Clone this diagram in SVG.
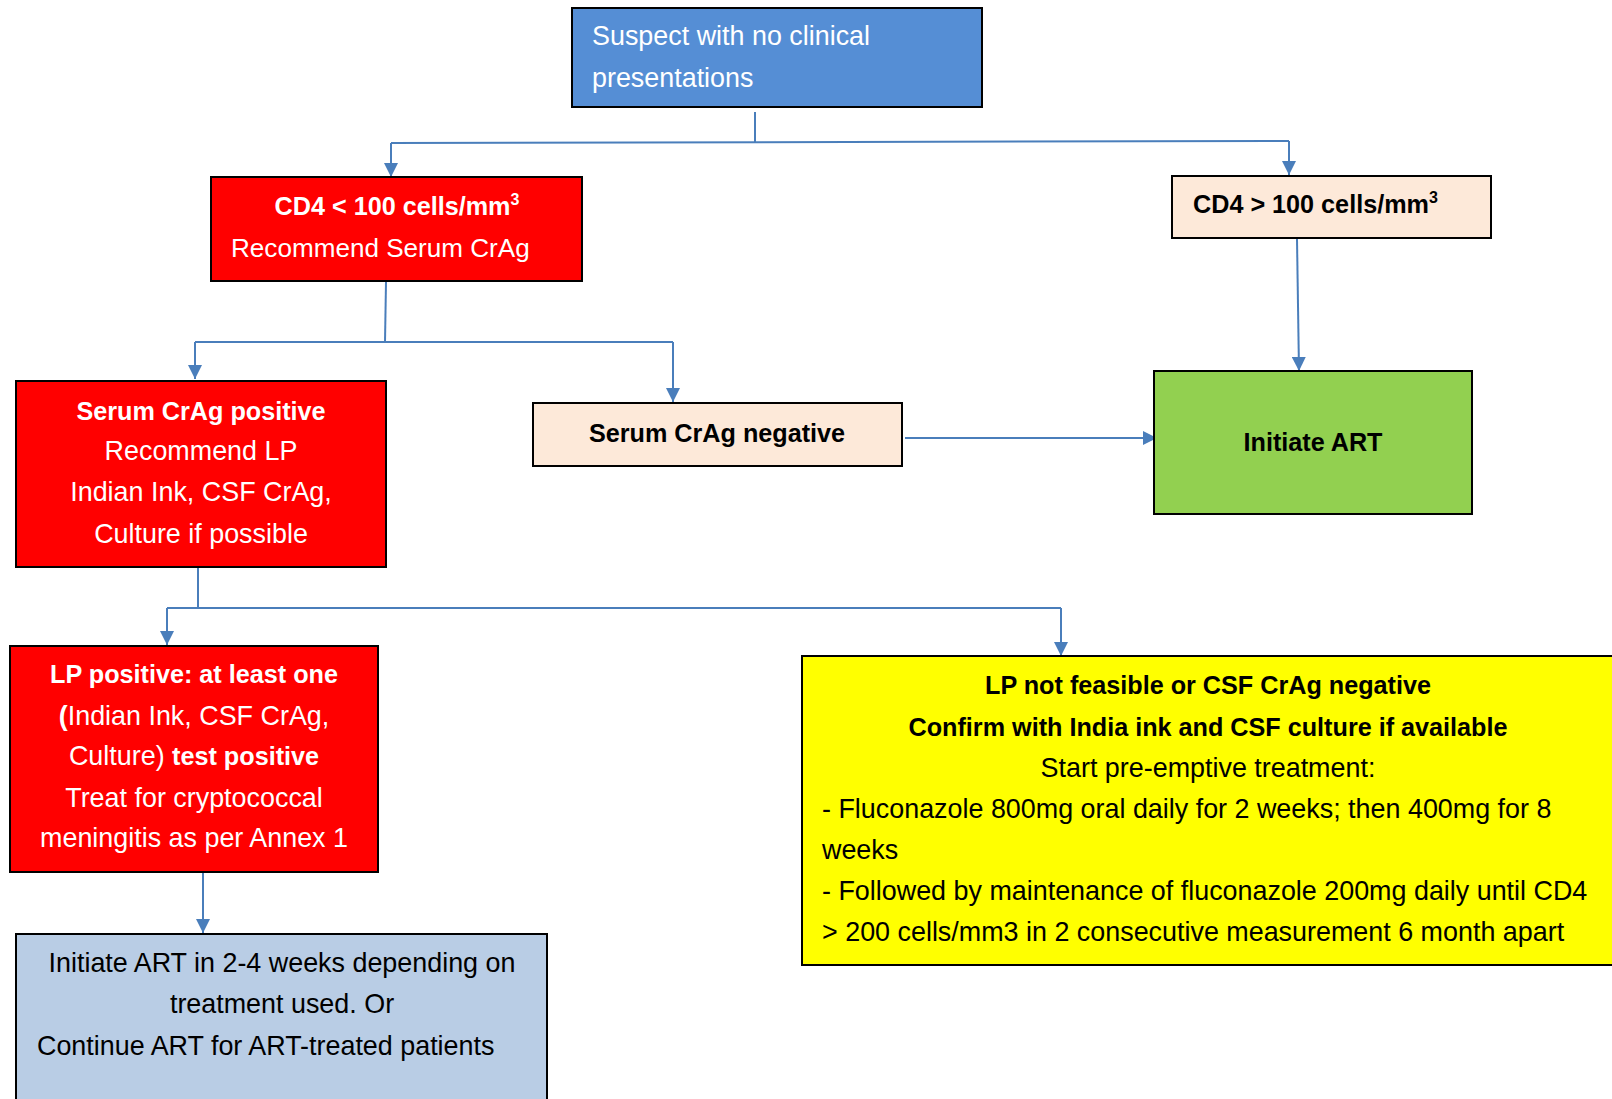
<svg xmlns="http://www.w3.org/2000/svg" width="1612" height="1099" viewBox="0 0 1612 1099">
<style>
.box{stroke:#000;stroke-width:2}
.t{font-family:"Liberation Sans",Arial,sans-serif;font-size:26.9px}
.b{font-family:"Liberation Sans",Arial,sans-serif;font-size:25.2px;font-weight:bold}
.w{fill:#fff}
.k{fill:#000}
.c{text-anchor:middle}
.ln{fill:none;stroke:#4A7EBB;stroke-width:2}
</style>
<defs>
<marker id="ah" markerUnits="userSpaceOnUse" markerWidth="15" markerHeight="14" refX="14" refY="7" orient="auto">
<path d="M0,0 L14,7 L0,14 z" fill="#4A7EBB"/>
</marker>
</defs>
<rect width="1612" height="1099" fill="#fff"/>
<g id="connectors">
<path class="ln" d="M755,112 V142"/>
<path class="ln" d="M391,143 L1289,141"/>
<path class="ln" d="M391,143 V177" marker-end="url(#ah)"/>
<path class="ln" d="M1289,141 V175" marker-end="url(#ah)"/>
<path class="ln" d="M1297,239 L1299,371" marker-end="url(#ah)"/>
<path class="ln" d="M386,282 L385,342"/>
<path class="ln" d="M195,342 H673"/>
<path class="ln" d="M195,342 V379" marker-end="url(#ah)"/>
<path class="ln" d="M673,342 V402" marker-end="url(#ah)"/>
<path class="ln" d="M905,438 H1157" marker-end="url(#ah)"/>
<path class="ln" d="M198,567 V608"/>
<path class="ln" d="M167,608 H1061"/>
<path class="ln" d="M167,608 V645" marker-end="url(#ah)"/>
<path class="ln" d="M1061,608 V656" marker-end="url(#ah)"/>
<path class="ln" d="M203,873 V933" marker-end="url(#ah)"/>
</g>
<g id="start">
<rect class="box" x="572" y="8" width="410" height="99" fill="#558ED5"/>
<text class="t w" x="592" y="45">Suspect with no clinical</text>
<text class="t w" x="592" y="87">presentations</text>
</g>
<g id="cd4-low">
<rect class="box" x="211" y="177" width="371" height="104" fill="#FF0000"/>
<text class="b w c" x="397" y="215">CD4 &lt; 100 cells/mm<tspan style="font-size:16px" dy="-10">3</tspan></text>
<text class="t w" x="231" y="257" style="font-size:26.1px">Recommend Serum CrAg</text>
</g>
<g id="cd4-high">
<rect class="box" x="1172" y="176" width="319" height="62" fill="#FDE9D9"/>
<text class="b k" x="1193" y="213">CD4 &gt; 100 cells/mm<tspan style="font-size:16px" dy="-10">3</tspan></text>
</g>
<g id="serum-pos">
<rect class="box" x="16" y="381" width="370" height="186" fill="#FF0000"/>
<text class="b w c" x="201" y="420">Serum CrAg positive</text>
<text class="t w c" x="201" y="460">Recommend LP</text>
<text class="t w c" x="201" y="501">Indian Ink, CSF CrAg,</text>
<text class="t w c" x="201" y="543">Culture if possible</text>
</g>
<g id="serum-neg">
<rect class="box" x="533" y="403" width="369" height="63" fill="#FDE9D9"/>
<text class="b k c" x="717" y="442">Serum CrAg negative</text>
</g>
<g id="initiate-art">
<rect class="box" x="1154" y="371" width="318" height="143" fill="#92D050"/>
<text class="b k c" x="1313" y="451">Initiate ART</text>
</g>
<g id="lp-pos">
<rect class="box" x="10" y="646" width="368" height="226" fill="#FF0000"/>
<text class="b w c" x="194" y="683">LP positive: at least one</text>
<text class="t w c" x="194" y="725"><tspan font-weight="bold">(</tspan>Indian Ink, CSF CrAg,</text>
<text class="t w c" x="194" y="765">Culture) <tspan style="font-weight:bold;font-size:25.2px">test positive</tspan></text>
<text class="t w c" x="194" y="807">Treat for cryptococcal</text>
<text class="t w c" x="194" y="847">meningitis as per Annex 1</text>
</g>
<g id="art-timing">
<rect class="box" x="16" y="934" width="531" height="175" fill="#B9CDE5"/>
<text class="t k c" x="282" y="972">Initiate ART in 2-4 weeks depending on</text>
<text class="t k c" x="282" y="1013">treatment used. Or</text>
<text class="t k" x="37" y="1055">Continue ART for ART-treated patients</text>
</g>
<g id="lp-neg">
<rect class="box" x="802" y="656" width="820" height="309" fill="#FFFF00"/>
<text class="b k c" x="1208" y="694">LP not feasible or CSF CrAg negative</text>
<text class="b k c" x="1208" y="736">Confirm with India ink and CSF culture if available</text>
<text class="t k c" x="1208" y="777">Start pre-emptive treatment:</text>
<text class="t k" x="822" y="818">- Fluconazole 800mg oral daily for 2 weeks; then 400mg for 8</text>
<text class="t k" x="822" y="859">weeks</text>
<text class="t k" x="822" y="900">- Followed by maintenance of fluconazole 200mg daily until CD4</text>
<text class="t k" x="822" y="941">&gt; 200 cells/mm3 in 2 consecutive measurement 6 month apart</text>
</g>
</svg>
